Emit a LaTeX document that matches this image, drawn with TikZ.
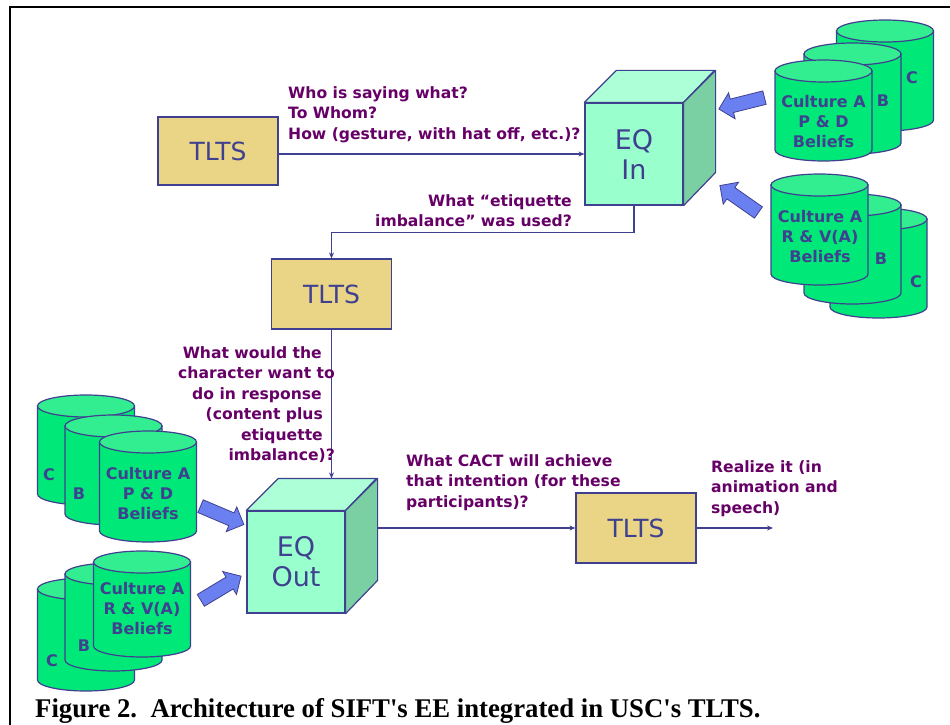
\documentclass[tikz,border=0pt]{standalone}
\usepackage{fontspec}
\usepackage{graphicx}
\usetikzlibrary{shapes.arrows,arrows.meta,calc}
\newfontfamily\vf{DejaVu Sans}
\newfontfamily\capf{Liberation Serif}
\definecolor{edge}{RGB}{64,64,144}
\definecolor{txtblue}{RGB}{64,64,144}
\definecolor{lblpurple}{RGB}{102,0,102}
\definecolor{tltsfill}{RGB}{233,213,133}
\definecolor{cubefront}{RGB}{153,255,204}
\definecolor{cubetop}{RGB}{172,255,214}
\definecolor{cubeside}{RGB}{122,207,163}
\definecolor{cylbody}{RGB}{0,232,120}
\definecolor{cyltop}{RGB}{51,238,145}
\definecolor{barrowfill}{RGB}{107,128,240}
\tikzset{
 tlts/.style={draw=edge, line width=1.2pt, fill=tltsfill, minimum width=120pt, minimum height=70pt, inner sep=0pt, text=txtblue, font=\vf\fontsize{25}{30}\selectfont},
 cubeface/.style={draw=edge, line width=1.2pt, fill=cubefront, minimum width=98pt, minimum height=102pt, inner sep=0pt, text=txtblue, align=center, font=\vf\fontsize{27}{30}\selectfont},
 cubetopface/.style={draw=edge, line width=1.2pt, fill=cubetop, line join=round},
 cubesideface/.style={draw=edge, line width=1.2pt, fill=cubeside, line join=round},
 conn/.style={draw=edge, line width=1.2pt, -{Stealth[length=6pt,width=5pt]}},
 lbl/.style={text=lblpurple, inner sep=0pt, font=\vf\bfseries\fontsize{15.6}{20.5}\selectfont},
 cyltxt/.style={text=txtblue, inner sep=0pt, align=center, font=\vf\bfseries\fontsize{16}{20}\selectfont},
 cylbodystyle/.style={draw=edge, line width=1.2pt, fill=cylbody},
 cyltopstyle/.style={draw=edge, line width=1.2pt, fill=cyltop},
 barrow/.style={single arrow, draw=edge, line width=0.8pt, fill=barrowfill, minimum height=47pt, inner sep=6.5pt, single arrow head extend=6.5pt, single arrow tip angle=90}
}
\newcommand\cylinderdraw[3]{%
 \path[cylbodystyle] (#1-48.5,#2) -- (#1-48.5,#3) arc[start angle=180,end angle=0,x radius=48.5,y radius=11] -- (#1+48.5,#2) -- cycle;
 \path[cyltopstyle] (#1,#2) ellipse[x radius=48.5,y radius=11];
}
\begin{document}
\begin{tikzpicture}[x=1pt,y=-1pt]
\useasboundingbox (0,0) rectangle (950,725);
% frame
\draw[line width=2.5pt] (10,725) -- (10,7) -- (950,7);

% group 1 (top right, P & D)
\cylinderdraw{885}{31}{120}
\cylinderdraw{852.5}{54}{143}
\cylinderdraw{823.5}{71}{150}
\node[cyltxt] (g1c) at (912,78) {C};
\node[cyltxt] (g1b) at (883,101) {B};
\node[cyltxt, anchor=north] (g1a) at (823.5,95) {Culture A\\P \& D\\Beliefs};

% group 2 (top right, R & V(A))
\cylinderdraw{878.5}{219}{307}
\cylinderdraw{852.5}{205}{293}
\cylinderdraw{819.5}{185}{274}
\node[cyltxt] (g2c) at (916,282) {C};
\node[cyltxt] (g2b) at (881,259) {B};
\node[cyltxt, anchor=north] (g2a) at (820,210) {Culture A\\R \& V(A)\\Beliefs};

% group 3 (bottom left, P & D)
\cylinderdraw{86}{406}{494}
\cylinderdraw{113.5}{426}{514}
\cylinderdraw{148}{442}{531}
\node[cyltxt] (g3c) at (49,475) {C};
\node[cyltxt] (g3b) at (79,494) {B};
\node[cyltxt, anchor=north] (g3a) at (148,467) {Culture A\\P \& D\\Beliefs};

% group 4 (bottom left, R & V(A))
\cylinderdraw{86}{589}{680}
\cylinderdraw{113.5}{574}{660}
\cylinderdraw{142}{562}{646}
\node[cyltxt] (g4c) at (52,661) {C};
\node[cyltxt] (g4b) at (84,646) {B};
\node[cyltxt, anchor=north] (g4a) at (142,582) {Culture A\\R \& V(A)\\Beliefs};

% block arrows
\node[barrow, rotate=194] (ba1) at (745,102.5) {};
\node[barrow, rotate=145] (ba2) at (742,201) {};
\node[barrow, rotate=-23] (ba3) at (219,514) {};
\node[barrow, rotate=31] (ba4) at (218,590) {};

% TLTS boxes
\node[tlts, minimum height=68pt] (tlts1) at (218,151) {TLTS};
\node[tlts] (tlts2) at (331.5,294) {TLTS};
\node[tlts] (tlts3) at (636,528) {TLTS};

% cubes
\node[cubeface] (eqin) at (634,154) {EQ\\In};
\path[cubetopface] (eqin.north west) -- ++(32,-32) -- ++(98,0) -- (eqin.north east) -- cycle;
\path[cubesideface] (eqin.north east) -- ++(32,-32) -- ++(0,102) -- (eqin.south east) -- cycle;

\node[cubeface] (eqout) at (296,562) {EQ\\Out};
\path[cubetopface] (eqout.north west) -- ++(32,-32) -- ++(98,0) -- (eqout.north east) -- cycle;
\path[cubesideface] (eqout.north east) -- ++(32,-32) -- ++(0,102) -- (eqout.south east) -- cycle;
\coordinate (eqoutbk) at ($(eqout.north west)+(32,-32)$);
\coordinate (eqoutside) at ($(eqout.north east)+(32,0)$);
\coordinate (realize) at (773,528);

% connectors
\draw[conn] (tlts1.east |- eqin.west) -- (eqin.west);
\draw[conn] (eqin.south) -- ++(0,27) -| (tlts2.north);
\draw[conn] (tlts2.south) -- (tlts2.south |- eqoutbk);
\draw[conn] (tlts3.west -| eqoutside) -- (tlts3.west);
\draw[conn] (tlts3.east) -- (realize);

% labels
\node[lbl, anchor=north west, align=left] (q1) at (288,86) {Who is saying what?\\To Whom?\\How (gesture, with hat off, etc.)?};
\node[lbl, anchor=north east, align=right] (q2) at (572,194) {What “etiquette\\imbalance” was used?};
\node[lbl, anchor=north east, align=right] (q3) at (335,346) {What would the\rule{13pt}{0pt}\\character want to\\do in response\rule{13pt}{0pt}\\(content plus\rule{12pt}{0pt}\\etiquette\rule{12pt}{0pt}\\imbalance)?};
\node[lbl, anchor=north west, align=left] (q4) at (406,454) {What CACT will achieve\\that intention (for these\\participants)?};
\node[lbl, anchor=north west, align=left] (q5) at (711,460) {Realize it (in\\animation and\\speech)};

% caption
\node[anchor=base west, inner sep=0pt, font=\capf\bfseries\fontsize{27}{30}\selectfont] (cap) at (35,717) {\scalebox{0.99}[1]{Figure 2.\hspace{0.5em}Architecture of SIFT's EE integrated in USC's TLTS.}};
\end{tikzpicture}
\end{document}
